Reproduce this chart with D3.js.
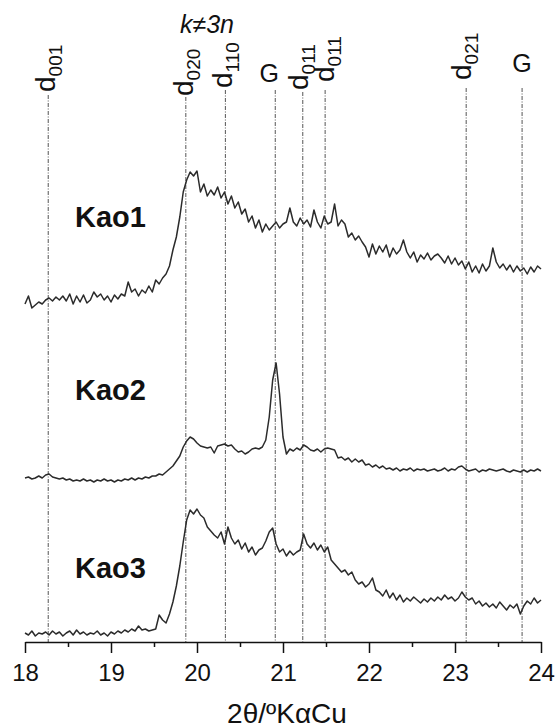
<!DOCTYPE html>
<html>
<head>
<meta charset="utf-8">
<script src="https://cdn.jsdelivr.net/npm/d3@7/dist/d3.min.js"></script>
<style>
  body { margin: 0; background: #fff; }
  svg { display: block; font-family: Arial, "Liberation Sans", sans-serif; }
</style>
</head>
<body>
<div id="chart"></div>
<script>
// 2theta grid of the scans (degrees, CuKa)
var thetaStart = 18;
var thetaStep = 0.04;

// intensities (a.u., stacked offsets included), one value per grid step
var kao1 = [338, 346, 334, 337, 340, 338, 342, 344, 341, 345, 342, 346, 341, 348, 338, 346, 340, 347, 339, 342,
  350, 345, 348, 342, 346, 340, 347, 343, 348, 346, 360, 350, 353, 346, 352, 349, 356, 350, 362, 358,
  364, 368, 376, 392, 405, 425, 450, 462, 470, 466, 471, 450, 458, 446, 452, 447, 455, 444, 450, 438,
  446, 434, 440, 428, 433, 420, 426, 414, 422, 410, 418, 412, 416, 420, 414, 418, 420, 434, 420, 416,
  424, 418, 422, 415, 432, 420, 414, 426, 418, 420, 438, 416, 422, 418, 405, 409, 402, 406, 400, 395,
  385, 398, 388, 396, 390, 397, 385, 394, 388, 392, 402, 390, 384, 390, 380, 387, 383, 389, 382, 386,
  388, 384, 379, 386, 378, 384, 377, 381, 373, 380, 370, 376, 369, 378, 371, 376, 394, 380, 374, 378,
  372, 377, 370, 376, 371, 374, 368, 375, 370, 376, 373];

var kao2 = [164, 165, 163, 164, 166, 164, 167, 168, 165, 164, 163, 164, 162, 163, 161, 162, 161, 163, 161, 162,
  160, 162, 161, 163, 161, 162, 160, 162, 161, 163, 162, 164, 162, 164, 163, 165, 164, 166, 166, 168,
  167, 170, 173, 176, 181, 186, 195, 201, 205, 203, 199, 196, 195, 194, 195, 189, 196, 197, 198, 196,
  197, 193, 190, 191, 188, 190, 193, 194, 193, 195, 202, 225, 262, 279, 248, 205, 188, 193, 191, 194,
  192, 197, 195, 192, 191, 193, 190, 193, 194, 193, 192, 184, 185, 182, 184, 180, 183, 180, 182, 177,
  178, 175, 177, 174, 176, 173, 174, 172, 174, 171, 173, 172, 174, 171, 173, 172, 173, 171, 172, 173,
  171, 172, 174, 171, 173, 172, 175, 176, 173, 171, 172, 173, 170, 172, 171, 173, 172, 171, 172, 173,
  171, 170, 172, 171, 170, 172, 170, 172, 171, 173, 171];

var kao3 = [9, 7, 11, 6, 9, 8, 10, 7, 11, 8, 10, 6, 9, 11, 7, 12, 8, 10, 7, 9,
  8, 11, 7, 9, 6, 10, 8, 11, 9, 12, 10, 13, 11, 16, 12, 13, 11, 12, 13, 27,
  22, 19, 28, 40, 56, 76, 100, 122, 132, 128, 133, 127, 124, 115, 111, 107, 104, 110, 98, 115,
  104, 98, 102, 93, 99, 90, 95, 87, 92, 94, 101, 110, 114, 98, 90, 93, 86, 91, 87, 90,
  92, 108, 98, 94, 99, 92, 97, 90, 95, 82, 78, 74, 70, 72, 67, 70, 62, 58, 60, 55,
  58, 64, 52, 50, 46, 52, 44, 49, 42, 47, 40, 44, 41, 45, 42, 39, 43, 40, 44, 41,
  45, 42, 47, 43, 45, 41, 44, 50, 45, 42, 44, 38, 41, 36, 39, 35, 38, 34, 40, 36,
  32, 37, 34, 38, 28, 36, 41, 38, 44, 39, 42];

var sampleNames = ["Kao1", "Kao2", "Kao3"];
var sampleLabelLevels = [415, 242, 64];

// reflection markers
var markerPos = [18.27, 19.87, 20.33, 20.91, 21.23, 21.49, 23.13, 23.78];
var markerMain = ["d", "d", "d", "G", "d", "d", "d", "G"];
var markerSub = ["001", "020", "110", "", "011", "011", "021", ""];

var xTicks = [18, 19, 20, 21, 22, 23, 24];
var xMinorTicks = [18.5, 19.5, 20.5, 21.5, 22.5, 23.5];

var width = 556;
var height = 728;

var svg = d3.select("#chart")
  .append("svg")
  .attr("width", width)
  .attr("height", height);

var xScale = d3.scaleLinear()
  .domain([18, 24])
  .range([25, 541]);

var yScale = d3.scaleLinear()
  .domain([0, 550])
  .range([642, 92]);

// marker label layout: offset of label from line, label foot, line top
var markerLayout = [
  { dx: 7, foot: 92, top: 95 },
  { dx: 7, foot: 96, top: 97 },
  { dx: 7, foot: 88, top: 90 },
  { dx: -6, foot: 82, top: 90 },
  { dx: 5, foot: 90, top: 92 },
  { dx: 9, foot: 82, top: 90 },
  { dx: 5, foot: 80, top: 88 },
  { dx: 0, foot: 72, top: 88 }
];

// dash-dot reference lines
svg.selectAll(".marker")
  .data(markerPos)
  .enter().append("line")
  .attr("class", "marker")
  .attr("x1", function (d) { return xScale(d); })
  .attr("x2", function (d) { return xScale(d); })
  .attr("y1", function (d, i) { return markerLayout[i].top; })
  .attr("y2", yScale(0))
  .attr("stroke", "#555")
  .attr("stroke-width", 1)
  .attr("stroke-dasharray", "4,1.5,1,1.5");

markerPos.forEach(function (p, i) {
  var lx = xScale(p) + markerLayout[i].dx;
  var ly = markerLayout[i].foot;
  var t = svg.append("text")
    .attr("fill", "#111");
  if (markerSub[i] === "") {
    t.attr("x", lx).attr("y", ly)
      .attr("text-anchor", "middle")
      .attr("font-size", 25)
      .text(markerMain[i]);
  } else {
    t.attr("transform", "translate(" + lx + "," + ly + ") rotate(-90)")
      .attr("font-size", 28);
    t.append("tspan").text(markerMain[i]);
    t.append("tspan")
      .attr("font-size", 19)
      .attr("dy", 7)
      .text(markerSub[i]);
  }
});

svg.append("text")
  .attr("x", 180)
  .attr("y", 33)
  .attr("font-size", 25)
  .attr("font-style", "italic")
  .attr("fill", "#111")
  .text("k\u22603n");

// patterns
var line = d3.line()
  .x(function (d, i) { return xScale(thetaStart + i * thetaStep); })
  .y(function (d) { return yScale(d); });

svg.selectAll(".pattern")
  .data([kao1, kao2, kao3])
  .enter().append("path")
  .attr("class", "pattern")
  .attr("d", line)
  .attr("fill", "none")
  .attr("stroke", "#2b2b2b")
  .attr("stroke-width", 1.5)
  .attr("stroke-linejoin", "round");

svg.selectAll(".sample")
  .data(sampleNames)
  .enter().append("text")
  .attr("class", "sample")
  .attr("x", 75)
  .attr("y", function (d, i) { return yScale(sampleLabelLevels[i]); })
  .attr("font-size", 29)
  .attr("font-weight", "bold")
  .attr("fill", "#111")
  .text(function (d) { return d; });

// x axis
var xAxis = d3.axisBottom(xScale)
  .tickValues(xTicks)
  .tickSize(11)
  .tickSizeOuter(0)
  .tickPadding(11)
  .tickFormat(d3.format("d"));

var xMinor = d3.axisBottom(xScale)
  .tickValues(xMinorTicks)
  .tickSize(5)
  .tickFormat("");

var gMinor = svg.append("g")
  .attr("transform", "translate(0," + yScale(0) + ")")
  .call(xMinor);
gMinor.select(".domain").remove();
gMinor.selectAll("line").attr("stroke", "#111").attr("stroke-width", 1.5);

var gX = svg.append("g")
  .attr("transform", "translate(0," + yScale(0) + ")")
  .call(xAxis);
gX.select(".domain").attr("stroke", "#111").attr("stroke-width", 1.5);
gX.selectAll("line").attr("stroke", "#111").attr("stroke-width", 1.5);
gX.selectAll("text")
  .attr("font-size", 24)
  .attr("font-family", "Arial, 'Liberation Sans', sans-serif")
  .attr("fill", "#111");

svg.append("text")
  .attr("x", 287)
  .attr("y", 723)
  .attr("text-anchor", "middle")
  .attr("font-size", 28)
  .attr("fill", "#111")
  .text("2\u03b8/\u00baK\u03b1Cu");
</script>
</body>
</html>
